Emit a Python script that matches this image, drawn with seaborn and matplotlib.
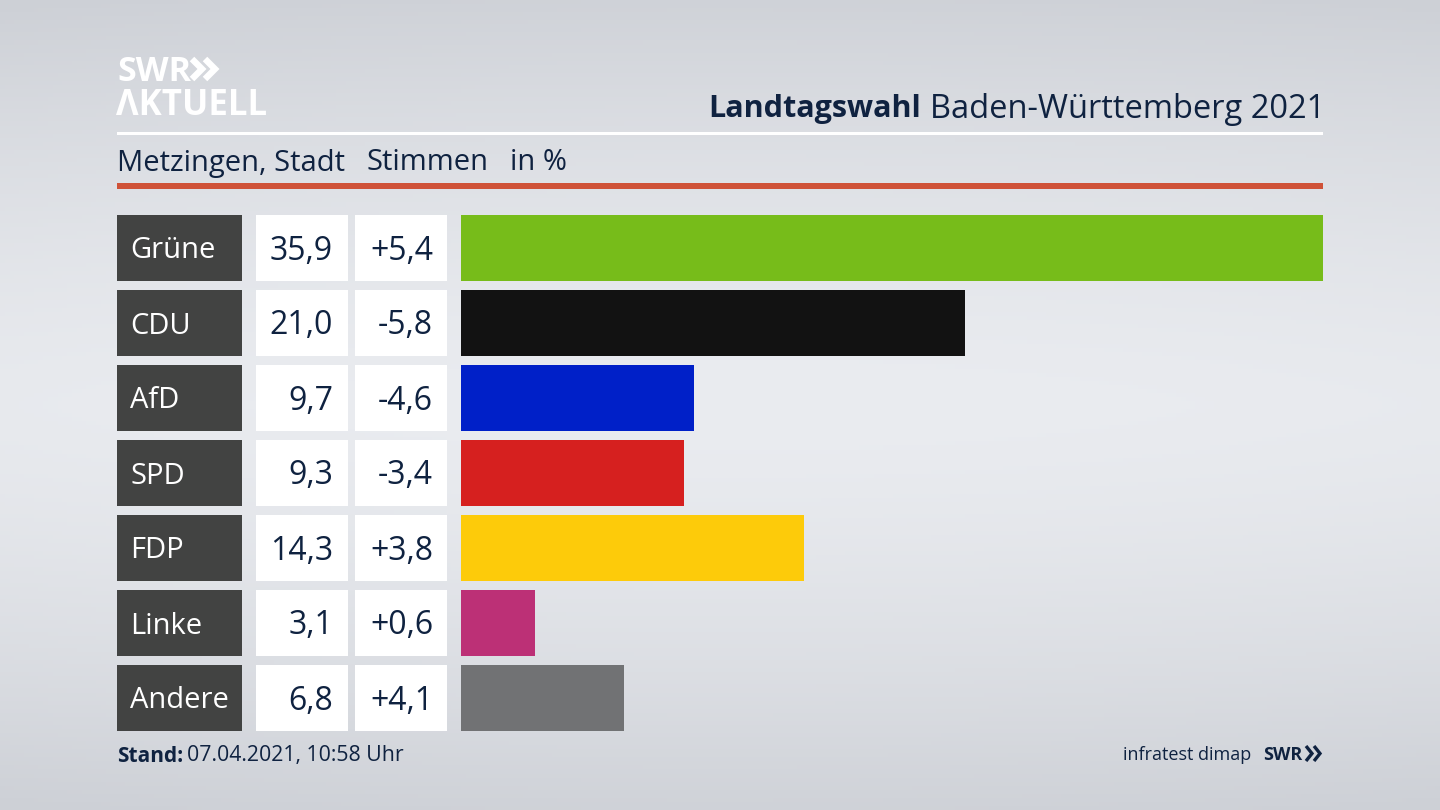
import numpy as np
import pandas as pd
import matplotlib
matplotlib.use("Agg")
import matplotlib.pyplot as plt
from matplotlib.patches import Rectangle
import seaborn as sns

parties = ["Grüne", "CDU", "AfD", "SPD", "FDP", "Linke", "Andere"]
shares = [35.9, 21.0, 9.7, 9.3, 14.3, 3.1, 6.8]
changes = ["+5,4", "-5,8", "-4,6", "-3,4", "+3,8", "+0,6", "+4,1"]
colors = ["#77bc1a", "#121212", "#0020c8", "#d6201f", "#fdcb0a", "#bc3076", "#717274"]

FONT = "Open Sans"
NAVY = "#0f2240"
W, H = 1440, 810
sns.set_theme(style="white")
plt.rcParams["font.family"] = [FONT, "DejaVu Sans"]

fig = plt.figure(figsize=(W / 100, H / 100), dpi=100)

# canvas in pixel coordinates
bg = fig.add_axes([0, 0, 1, 1])
bg.set_xlim(0, W)
bg.set_ylim(H, 0)
bg.axis("off")
yy, xx = np.mgrid[0:1:200j, 0:1:300j]
t = np.clip(np.abs(yy - 0.5) / 0.5, 0, 1) ** 1.5
r = np.abs(xx - 0.5) * 2
v = t * 0.92 + 0.08 * r ** 2
top = np.array([0xcd, 0xd0, 0xd6]) / 255
mid = np.array([0xea, 0xec, 0xf0]) / 255
img = mid[None, None, :] * (1 - v[..., None]) + top[None, None, :] * v[..., None]
bg.imshow(img, extent=(0, W, H, 0), aspect="auto", zorder=0)

# header
bg.add_patch(Rectangle((117, 132), 1206, 3, color="white", lw=0, zorder=2))
bg.add_patch(Rectangle((117, 183), 1206, 6, color="#cf5238", lw=0, zorder=2))
bg.text(117, 72, "SWR", color="white", fontsize=24.5, fontweight="bold", va="center", ha="left")
bg.text(116, 106, "ΛKTUELL", color="white", fontsize=25, fontweight="bold", va="center", ha="left")
for x0 in (192, 205):
    bg.plot([x0, x0 + 10, x0], [59, 69, 79], color="white", lw=4.6, solid_joinstyle="miter", solid_capstyle="butt")
bg.text(930, 109, "Baden-Württemberg 2021", color=NAVY, fontsize=23.5, va="center", ha="left")
bg.text(921, 109, "Landtagswahl", color=NAVY, fontsize=22, fontweight="bold", va="center", ha="right")
bg.text(117, 163, "Metzingen, Stadt", color=NAVY, fontsize=21, va="center", ha="left")
bg.text(366, 163, "Stimmen", color=NAVY, fontsize=21, va="center", ha="left")
bg.text(510, 163, "in %", color=NAVY, fontsize=21, va="center", ha="left")

# bars
row_h = 66.0
pitch = 75.0
band = row_h / pitch
ax = fig.add_axes([461 / W, 1 - 731 / H, (1323 - 461) / W, (731 - 215) / H])
ax.patch.set_alpha(0)
df = pd.DataFrame({"party": parties, "share": shares})
sns.barplot(data=df, y="party", x="share", hue="party", palette=colors, dodge=False,
            legend=False, width=band, saturation=1, linewidth=0, ax=ax)
ax.set_xlim(0, max(shares))
ax.set_ylim(len(parties) - 1 + band / 2, -band / 2)
ax.axis("off")

# table cells
for i, (p, s, c) in enumerate(zip(parties, shares, changes)):
    y0 = 215 + i * pitch
    yc = y0 + 36
    bg.add_patch(Rectangle((117, y0), 125, row_h, color="#424342", lw=0, zorder=2))
    bg.add_patch(Rectangle((256, y0), 92, row_h, color="white", lw=0, zorder=2))
    bg.add_patch(Rectangle((355, y0), 92, row_h, color="white", lw=0, zorder=2))
    bg.text(130, yc, p, color="white", fontsize=21, va="center", ha="left", zorder=3)
    bg.text(333, yc, f"{s:.1f}".replace(".", ","), color=NAVY, fontsize=23, va="center", ha="right", zorder=3)
    bg.text(433, yc, c, color=NAVY, fontsize=23, va="center", ha="right", zorder=3)

# footer
bg.text(117, 756, "Stand:", color=NAVY, fontsize=15, fontweight="bold", va="center", ha="left")
bg.text(187, 756, "07.04.2021, 10:58 Uhr", color=NAVY, fontsize=15.3, va="center", ha="left")
bg.text(1251, 755, "infratest dimap", color=NAVY, fontsize=13, va="center", ha="right")
bg.text(1263, 755, "SWR", color=NAVY, fontsize=13, fontweight="bold", va="center", ha="left")
for x0 in (1306, 1314):
    bg.plot([x0, x0 + 6, x0], [746, 753.5, 761], color=NAVY, lw=2.4, solid_joinstyle="miter", solid_capstyle="butt")
bg.set_xlim(0, W)
bg.set_ylim(H, 0)

fig.savefig("out.png", dpi=100)
